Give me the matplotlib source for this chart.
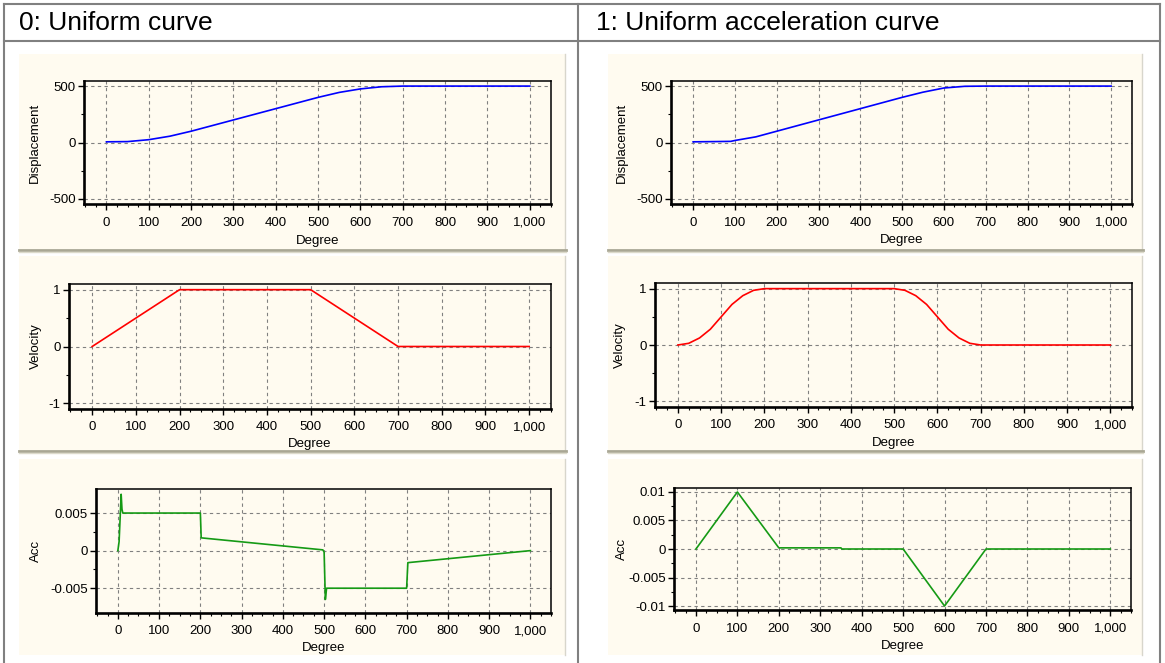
import matplotlib
matplotlib.use('Agg')
import matplotlib.pyplot as plt
import matplotlib.transforms as mtransforms
from matplotlib.patches import Rectangle
from matplotlib.lines import Line2D
from matplotlib.ticker import MultipleLocator, FuncFormatter

plt.rcParams['font.family'] = ['Liberation Sans', 'DejaVu Sans']
plt.rcParams['axes.unicode_minus'] = False

# ---- data ----
titles = ['0: Uniform curve', '1: Uniform acceleration curve']

# 0: uniform curve
deg_disp0 = [0, 50, 100, 150, 200, 250, 300, 350, 400, 450, 500, 550, 600, 650, 700, 1000]
disp0 = [6, 8, 25, 56, 100, 150, 200, 250, 300, 350, 400, 444, 475, 494, 500, 500]
deg_vel0 = [0, 200, 500, 700, 1000]
vel0 = [0, 1, 1, 0, 0]
deg_acc0 = [0, 3, 8, 10, 12, 200, 202, 497, 500, 503, 506, 700, 703, 1000]
acc0 = [0, 0.0012, 0.0075, 0.0055, 0.005, 0.005, 0.0017, 0.0001, -0.0002, -0.0065, -0.005, -0.005, -0.0016, 0.0]

# 1: uniform acceleration curve
deg_disp1 = [0, 50, 90, 100, 150, 200, 300, 400, 500, 550, 600, 650, 700, 1000]
disp1 = [6, 8, 10, 18, 50, 100, 200, 300, 400, 446, 483, 498, 500, 500]
deg_vel1 = [0, 25, 50, 75, 100, 125, 150, 175, 200, 500, 525, 550, 575, 600, 625, 650, 675, 700, 1000]
vel1 = [0, 0.03, 0.125, 0.28, 0.5, 0.72, 0.875, 0.97, 1, 1, 0.97, 0.875, 0.72, 0.5, 0.28, 0.125, 0.03, 0, 0]
deg_acc1 = [0, 100, 200, 350, 352, 500, 600, 700, 1000]
acc1 = [0, 0.01, 0.0002, 0.0002, 0, 0, -0.01, 0, 0]

x_ticks = list(range(0, 1001, 100))

W, H = 1165, 663
fig = plt.figure(figsize=(W / 100, H / 100), dpi=100)
fig.patch.set_facecolor('white')

BEIGE = '#FFFBF0'
GRIDC = '#808080'
TABLE = '#808080'


def fx(x):
    return x / W


def fy(y):
    return 1 - y / H


def hline(x1, x2, y, color, lw):
    fig.add_artist(Line2D([fx(x1), fx(x2)], [fy(y), fy(y)], transform=fig.transFigure,
                          color=color, lw=lw, zorder=-1))


def vline(x, y1, y2, color, lw):
    fig.add_artist(Line2D([fx(x), fx(x)], [fy(y1), fy(y2)], transform=fig.transFigure,
                          color=color, lw=lw, zorder=-1))


# table frame
hline(4, 1160, 4, TABLE, 1.5)
hline(4, 1160, 41, TABLE, 1.5)
vline(4, 4, 663, TABLE, 1.5)
vline(578, 4, 663, TABLE, 1.5)
vline(1160, 4, 663, TABLE, 1.5)

fig.text(fx(19), fy(23), titles[0], fontsize=19, va='center', ha='left')
fig.text(fx(596), fy(23), titles[1], fontsize=19, va='center', ha='left')

# beige panels with the grey bar underneath
columns = [(19, 565), (608, 1142)]
panels_y = [(54, 249, True), (256, 450, True), (459, 655, False)]
for (x1, x2) in columns:
    for (y1, y2, bar) in panels_y:
        fig.add_artist(Rectangle((fx(x1), fy(y2)), fx(x2 - x1), (y2 - y1) / H,
                                 transform=fig.transFigure, facecolor=BEIGE,
                                 edgecolor='none', zorder=-2))
        vline(x2, y1, y2, '#D8D6CC', 1.0)
        if bar:
            hline(x1, x2 + 1, y2 + 1, '#A9A794', 2.0)
            hline(x1, x2 + 1, y2 + 3, '#DCDACB', 1.0)


def make_plot(box, xs, ys, color, ylabel, ylim, yticks, ylabel_x, xlabel_y):
    l, t, r, b = box
    ax = fig.add_axes([fx(l), fy(b), fx(r - l), (b - t) / H])
    ax.set_facecolor(BEIGE)
    ax.plot(xs, ys, color=color, lw=1.2, zorder=3)
    ax.set_xlim(-53, 1050)
    ax.set_ylim(*ylim)
    ax.set_xticks(x_ticks)
    ax.xaxis.set_minor_locator(MultipleLocator(25))
    ax.set_yticks(yticks)
    step = yticks[1] - yticks[0]
    ax.set_yticks([v + step / 2 for v in yticks[:-1]], minor=True)
    ax.xaxis.set_major_formatter(FuncFormatter(lambda v, p: '{:,.0f}'.format(v)))
    ax.yaxis.set_major_formatter(FuncFormatter(lambda v, p: '{:g}'.format(v)))
    ax.grid(True, which='major', color=GRIDC, lw=0.8, linestyle=(0, (3, 3)))
    ax.set_axisbelow(True)
    ax.tick_params(which='major', direction='out', length=4, width=1, labelsize=9.5)
    ax.tick_params(which='minor', direction='out', length=2.5, width=0.8)
    ax.tick_params(axis='x', which='major', pad=5)
    ax.tick_params(axis='y', which='major', pad=2)
    ax.spines['left'].set_linewidth(1.9)
    ax.spines['bottom'].set_linewidth(1.9)
    ax.spines['top'].set_linewidth(1.1)
    ax.spines['right'].set_linewidth(1.1)
    ax.set_xlabel('Degree', fontsize=9.5)
    ax.set_ylabel(ylabel, fontsize=9.5)
    tx = mtransforms.blended_transform_factory(ax.transAxes, fig.transFigure)
    ty = mtransforms.blended_transform_factory(fig.transFigure, ax.transAxes)
    ax.xaxis.set_label_coords(0.5, fy(xlabel_y), transform=tx)
    ax.xaxis.label.set_va('center')
    ax.yaxis.set_label_coords(fx(ylabel_x), 0.5, transform=ty)
    ax.yaxis.label.set_va('center')
    return ax


make_plot((84, 81, 551, 204), deg_disp0, disp0, '#0000FF', 'Displacement',
          (-545, 545), [-500, 0, 500], 35, 241)
make_plot((69, 284, 551, 409), deg_vel0, vel0, '#FF0000', 'Velocity',
          (-1.1, 1.1), [-1, 0, 1], 36, 444)
make_plot((96, 489, 551, 613), deg_acc0, acc0, '#159A15', 'Acc',
          (-0.0083, 0.0082), [-0.005, 0, 0.005], 36, 648)

make_plot((671, 81, 1132, 204), deg_disp1, disp1, '#0000FF', 'Displacement',
          (-545, 545), [-500, 0, 500], 622, 240)
make_plot((655, 283, 1132, 407), deg_vel1, vel1, '#FF0000', 'Velocity',
          (-1.1, 1.1), [-1, 0, 1], 620, 443)
make_plot((674, 488, 1131, 610), deg_acc1, acc1, '#159A15', 'Acc',
          (-0.0107, 0.0107), [-0.01, -0.005, 0, 0.005, 0.01], 622, 646)

fig.savefig('out.png', dpi=100)
